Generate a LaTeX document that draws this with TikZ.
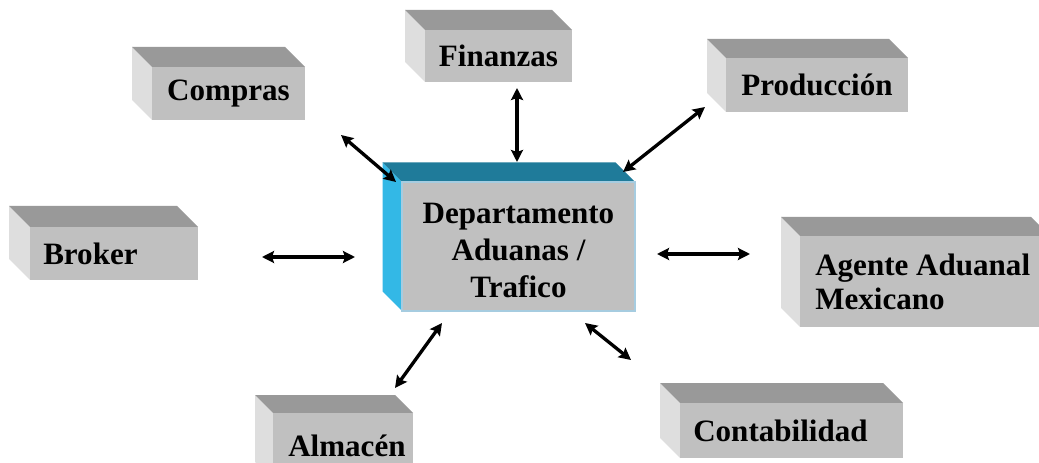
\documentclass[tikz,border=0pt]{standalone}
\usepackage{fontspec}
\setmainfont{Liberation Serif}
\usetikzlibrary{arrows.meta}
\definecolor{gfront}{HTML}{C0C0C0}
\definecolor{gtop}{HTML}{999999}
\definecolor{gside}{HTML}{DEDEDE}
\definecolor{bfront}{HTML}{C0C0C0}
\definecolor{btop}{HTML}{1F7B9A}
\definecolor{bside}{HTML}{33B8E6}
\definecolor{bedge}{HTML}{A6CCE0}
\tikzset{
  gfrontst/.style={fill=gfront, draw=none, inner sep=0pt, outer sep=0pt},
  gtopst/.style={fill=gtop},
  gsidest/.style={fill=gside},
  bfrontst/.style={fill=bfront, draw=bedge, line width=1pt, inner sep=0pt, outer sep=0pt},
  btopst/.style={fill=btop},
  bsidest/.style={fill=bside},
  lbl/.style={font=\fontsize{23.3}{27.4}\selectfont\bfseries, inner sep=0pt, text=black},
  link/.style={line width=2.5pt, {Stealth[length=9pt,width=9pt,inset=1.5pt]}-{Stealth[length=9pt,width=9pt,inset=1.5pt]}}
}
% #1 name, #2 x1, #3 y1, #4 x2, #5 y2, #6 depth, #7 style prefix
\newcommand\cubebox[7]{%
  \fill[#7sidest] (#2,#3) -- ++(-#6,-#6) -- (#2-#6,#5-#6) -- (#2,#5) -- cycle;
  \fill[#7topst] (#2,#3) -- ++(-#6,-#6) -- (#4-#6,#3-#6) -- (#4,#3) -- cycle;
  \node[#7frontst, anchor=north west, minimum width={(#4-#2)*0.75pt}, minimum height={(#5-#3)*0.75pt}] (#1) at (#2,#3) {};
}
\begin{document}
\begin{tikzpicture}[x=0.75pt,y=-0.75pt]
\clip (0,0) rectangle (1039,463);
\fill[white] (0,0) rectangle (1039,463);
% boxes
\cubebox{compras}{152}{67}{305}{120}{20}{g}
\cubebox{finanzas}{425}{30}{572}{82}{20}{g}
\cubebox{produccion}{726}{58}{908}{112}{19}{g}
\cubebox{broker}{30}{227}{198}{280}{21}{g}
\cubebox{agente}{800}{236}{1050}{327}{19}{g}
\cubebox{almacen}{273}{413}{413}{480}{18}{g}
\cubebox{contabilidad}{680}{403}{903}{458}{20}{g}
\cubebox{depto}{402}{182}{635}{311}{19.5}{b}
% labels
\node[lbl] (compras-t) at (compras.center) {Compras};
\node[lbl] (finanzas-t) at (finanzas.center) {Finanzas};
\node[lbl] (produccion-t) at (produccion.center) {Producción};
\node[lbl, anchor=west] (broker-t) at ([xshift=13*0.75pt]broker.west) {Broker};
\node[lbl, anchor=north west, align=left, font=\fontsize{23.3}{25.5}\selectfont\bfseries] (agente-t) at (815,254) {Agente Aduanal\\Mexicano};
\node[lbl, anchor=base west] (almacen-t) at (288,456) {Almacén};
\node[lbl, anchor=west] (contabilidad-t) at ([xshift=13*0.75pt]contabilidad.west) {Contabilidad};
\node[lbl, align=center] (depto-t) at ([yshift=-4*0.75pt]depto.center) {Departamento\\Aduanas /\\Trafico};
% connector ends
\coordinate (a1) at (341,135); \coordinate (b1) at (396,182);
\coordinate (a2) at (517,88);  \coordinate (b2) at (517,162);
\coordinate (a3) at (705,107); \coordinate (b3) at (623,172);
\coordinate (a4) at (262,257); \coordinate (b4) at (355,257);
\coordinate (a5) at (657,254); \coordinate (b5) at (750,254);
\coordinate (a6) at (442,323); \coordinate (b6) at (395,388);
\coordinate (a7) at (585,323); \coordinate (b7) at (631,360);
\draw[link] (a1) -- (b1);
\draw[link] (a2) -- (b2);
\draw[link] (a3) -- (b3);
\draw[link] (a4) -- (b4);
\draw[link] (a5) -- (b5);
\draw[link] (a6) -- (b6);
\draw[link] (a7) -- (b7);
\end{tikzpicture}
\end{document}
